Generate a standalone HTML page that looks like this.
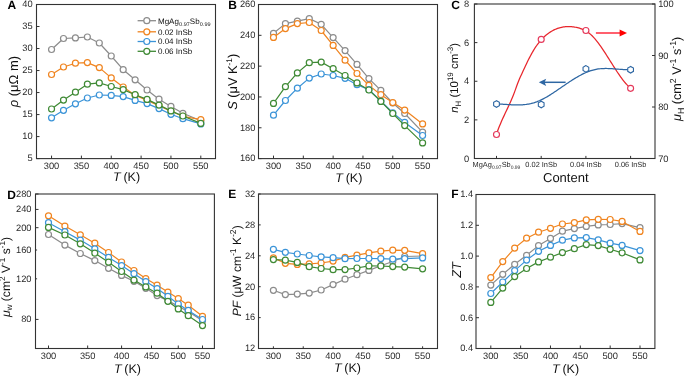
<!DOCTYPE html>
<html><head><meta charset="utf-8"><title>Figure</title>
<style>
html,body{margin:0;padding:0;background:#fff;width:685px;height:376px;overflow:hidden}
svg{display:block;will-change:transform}
text{font-family:"Liberation Sans",sans-serif;text-rendering:geometricPrecision}
</style></head><body>
<svg width="685" height="376" viewBox="0 0 685 376">
<rect width="685" height="376" fill="#fff"/>
<rect x="36.5" y="4.5" width="179" height="154.1" fill="none" stroke="#333333" stroke-width="1.1"/>
<line x1="51.55" y1="158.6" x2="51.55" y2="155.6" stroke="#333333" stroke-width="1"/>
<text x="51.55" y="168.8" font-size="9.3" text-anchor="middle" fill="#2a2a2a">300</text>
<line x1="81.4" y1="158.6" x2="81.4" y2="155.6" stroke="#333333" stroke-width="1"/>
<text x="81.4" y="168.8" font-size="9.3" text-anchor="middle" fill="#2a2a2a">350</text>
<line x1="111.25" y1="158.6" x2="111.25" y2="155.6" stroke="#333333" stroke-width="1"/>
<text x="111.25" y="168.8" font-size="9.3" text-anchor="middle" fill="#2a2a2a">400</text>
<line x1="141.1" y1="158.6" x2="141.1" y2="155.6" stroke="#333333" stroke-width="1"/>
<text x="141.1" y="168.8" font-size="9.3" text-anchor="middle" fill="#2a2a2a">450</text>
<line x1="170.95" y1="158.6" x2="170.95" y2="155.6" stroke="#333333" stroke-width="1"/>
<text x="170.95" y="168.8" font-size="9.3" text-anchor="middle" fill="#2a2a2a">500</text>
<line x1="200.8" y1="158.6" x2="200.8" y2="155.6" stroke="#333333" stroke-width="1"/>
<text x="200.8" y="168.8" font-size="9.3" text-anchor="middle" fill="#2a2a2a">550</text>
<line x1="36.5" y1="158.6" x2="39.5" y2="158.6" stroke="#333333" stroke-width="1"/>
<text x="32.7" y="161.43" font-size="9.3" text-anchor="end" fill="#2a2a2a">5</text>
<line x1="36.5" y1="136.59" x2="39.5" y2="136.59" stroke="#333333" stroke-width="1"/>
<text x="32.7" y="139.42" font-size="9.3" text-anchor="end" fill="#2a2a2a">10</text>
<line x1="36.5" y1="114.57" x2="39.5" y2="114.57" stroke="#333333" stroke-width="1"/>
<text x="32.7" y="117.4" font-size="9.3" text-anchor="end" fill="#2a2a2a">15</text>
<line x1="36.5" y1="92.56" x2="39.5" y2="92.56" stroke="#333333" stroke-width="1"/>
<text x="32.7" y="95.39" font-size="9.3" text-anchor="end" fill="#2a2a2a">20</text>
<line x1="36.5" y1="70.54" x2="39.5" y2="70.54" stroke="#333333" stroke-width="1"/>
<text x="32.7" y="73.37" font-size="9.3" text-anchor="end" fill="#2a2a2a">25</text>
<line x1="36.5" y1="48.53" x2="39.5" y2="48.53" stroke="#333333" stroke-width="1"/>
<text x="32.7" y="51.36" font-size="9.3" text-anchor="end" fill="#2a2a2a">30</text>
<line x1="36.5" y1="26.51" x2="39.5" y2="26.51" stroke="#333333" stroke-width="1"/>
<text x="32.7" y="29.34" font-size="9.3" text-anchor="end" fill="#2a2a2a">35</text>
<line x1="36.5" y1="4.5" x2="39.5" y2="4.5" stroke="#333333" stroke-width="1"/>
<text x="32.7" y="7.33" font-size="9.3" text-anchor="end" fill="#2a2a2a">40</text>
<polyline points="51.55,49.5 63.49,38.5 75.43,37.9 87.37,37 99.31,43 111.25,56 123.19,69.7 135.13,79.8 147.07,90 159.01,99.2 170.95,106.4 182.89,113.3 200.8,120.8" fill="none" stroke="#8c8c8c" stroke-width="1.2" stroke-linejoin="round"/>
<circle cx="51.55" cy="49.5" r="3.0" fill="#fff" stroke="#8c8c8c" stroke-width="1.2"/>
<circle cx="63.49" cy="38.5" r="3.0" fill="#fff" stroke="#8c8c8c" stroke-width="1.2"/>
<circle cx="75.43" cy="37.9" r="3.0" fill="#fff" stroke="#8c8c8c" stroke-width="1.2"/>
<circle cx="87.37" cy="37" r="3.0" fill="#fff" stroke="#8c8c8c" stroke-width="1.2"/>
<circle cx="99.31" cy="43" r="3.0" fill="#fff" stroke="#8c8c8c" stroke-width="1.2"/>
<circle cx="111.25" cy="56" r="3.0" fill="#fff" stroke="#8c8c8c" stroke-width="1.2"/>
<circle cx="123.19" cy="69.7" r="3.0" fill="#fff" stroke="#8c8c8c" stroke-width="1.2"/>
<circle cx="135.13" cy="79.8" r="3.0" fill="#fff" stroke="#8c8c8c" stroke-width="1.2"/>
<circle cx="147.07" cy="90" r="3.0" fill="#fff" stroke="#8c8c8c" stroke-width="1.2"/>
<circle cx="159.01" cy="99.2" r="3.0" fill="#fff" stroke="#8c8c8c" stroke-width="1.2"/>
<circle cx="170.95" cy="106.4" r="3.0" fill="#fff" stroke="#8c8c8c" stroke-width="1.2"/>
<circle cx="182.89" cy="113.3" r="3.0" fill="#fff" stroke="#8c8c8c" stroke-width="1.2"/>
<circle cx="200.8" cy="120.8" r="3.0" fill="#fff" stroke="#8c8c8c" stroke-width="1.2"/>
<polyline points="51.55,74.5 63.49,67 75.43,63.2 87.37,62.6 99.31,67.6 111.25,77.9 123.19,87 135.13,95.3 147.07,100.4 159.01,105.6 170.95,111.3 182.89,116.3 200.8,119.6" fill="none" stroke="#f0841f" stroke-width="1.2" stroke-linejoin="round"/>
<circle cx="51.55" cy="74.5" r="3.0" fill="#fff" stroke="#f0841f" stroke-width="1.2"/>
<circle cx="63.49" cy="67" r="3.0" fill="#fff" stroke="#f0841f" stroke-width="1.2"/>
<circle cx="75.43" cy="63.2" r="3.0" fill="#fff" stroke="#f0841f" stroke-width="1.2"/>
<circle cx="87.37" cy="62.6" r="3.0" fill="#fff" stroke="#f0841f" stroke-width="1.2"/>
<circle cx="99.31" cy="67.6" r="3.0" fill="#fff" stroke="#f0841f" stroke-width="1.2"/>
<circle cx="111.25" cy="77.9" r="3.0" fill="#fff" stroke="#f0841f" stroke-width="1.2"/>
<circle cx="123.19" cy="87" r="3.0" fill="#fff" stroke="#f0841f" stroke-width="1.2"/>
<circle cx="135.13" cy="95.3" r="3.0" fill="#fff" stroke="#f0841f" stroke-width="1.2"/>
<circle cx="147.07" cy="100.4" r="3.0" fill="#fff" stroke="#f0841f" stroke-width="1.2"/>
<circle cx="159.01" cy="105.6" r="3.0" fill="#fff" stroke="#f0841f" stroke-width="1.2"/>
<circle cx="170.95" cy="111.3" r="3.0" fill="#fff" stroke="#f0841f" stroke-width="1.2"/>
<circle cx="182.89" cy="116.3" r="3.0" fill="#fff" stroke="#f0841f" stroke-width="1.2"/>
<circle cx="200.8" cy="119.6" r="3.0" fill="#fff" stroke="#f0841f" stroke-width="1.2"/>
<polyline points="51.55,117.8 63.49,110.3 75.43,103.8 87.37,98 99.31,95 111.25,95.4 123.19,96.6 135.13,100.4 147.07,103.6 159.01,108.6 170.95,114.3 182.89,118.7 200.8,123.9" fill="none" stroke="#3b94d8" stroke-width="1.2" stroke-linejoin="round"/>
<circle cx="51.55" cy="117.8" r="3.0" fill="#fff" stroke="#3b94d8" stroke-width="1.2"/>
<circle cx="63.49" cy="110.3" r="3.0" fill="#fff" stroke="#3b94d8" stroke-width="1.2"/>
<circle cx="75.43" cy="103.8" r="3.0" fill="#fff" stroke="#3b94d8" stroke-width="1.2"/>
<circle cx="87.37" cy="98" r="3.0" fill="#fff" stroke="#3b94d8" stroke-width="1.2"/>
<circle cx="99.31" cy="95" r="3.0" fill="#fff" stroke="#3b94d8" stroke-width="1.2"/>
<circle cx="111.25" cy="95.4" r="3.0" fill="#fff" stroke="#3b94d8" stroke-width="1.2"/>
<circle cx="123.19" cy="96.6" r="3.0" fill="#fff" stroke="#3b94d8" stroke-width="1.2"/>
<circle cx="135.13" cy="100.4" r="3.0" fill="#fff" stroke="#3b94d8" stroke-width="1.2"/>
<circle cx="147.07" cy="103.6" r="3.0" fill="#fff" stroke="#3b94d8" stroke-width="1.2"/>
<circle cx="159.01" cy="108.6" r="3.0" fill="#fff" stroke="#3b94d8" stroke-width="1.2"/>
<circle cx="170.95" cy="114.3" r="3.0" fill="#fff" stroke="#3b94d8" stroke-width="1.2"/>
<circle cx="182.89" cy="118.7" r="3.0" fill="#fff" stroke="#3b94d8" stroke-width="1.2"/>
<circle cx="200.8" cy="123.9" r="3.0" fill="#fff" stroke="#3b94d8" stroke-width="1.2"/>
<polyline points="51.55,109 63.49,100.1 75.43,92.2 87.37,84.2 99.31,82.9 111.25,86.5 123.19,89.6 135.13,94.7 147.07,99.4 159.01,105.1 170.95,110.9 182.89,116 200.8,123.4" fill="none" stroke="#3f8a35" stroke-width="1.2" stroke-linejoin="round"/>
<circle cx="51.55" cy="109" r="3.0" fill="#fff" stroke="#3f8a35" stroke-width="1.2"/>
<circle cx="63.49" cy="100.1" r="3.0" fill="#fff" stroke="#3f8a35" stroke-width="1.2"/>
<circle cx="75.43" cy="92.2" r="3.0" fill="#fff" stroke="#3f8a35" stroke-width="1.2"/>
<circle cx="87.37" cy="84.2" r="3.0" fill="#fff" stroke="#3f8a35" stroke-width="1.2"/>
<circle cx="99.31" cy="82.9" r="3.0" fill="#fff" stroke="#3f8a35" stroke-width="1.2"/>
<circle cx="111.25" cy="86.5" r="3.0" fill="#fff" stroke="#3f8a35" stroke-width="1.2"/>
<circle cx="123.19" cy="89.6" r="3.0" fill="#fff" stroke="#3f8a35" stroke-width="1.2"/>
<circle cx="135.13" cy="94.7" r="3.0" fill="#fff" stroke="#3f8a35" stroke-width="1.2"/>
<circle cx="147.07" cy="99.4" r="3.0" fill="#fff" stroke="#3f8a35" stroke-width="1.2"/>
<circle cx="159.01" cy="105.1" r="3.0" fill="#fff" stroke="#3f8a35" stroke-width="1.2"/>
<circle cx="170.95" cy="110.9" r="3.0" fill="#fff" stroke="#3f8a35" stroke-width="1.2"/>
<circle cx="182.89" cy="116" r="3.0" fill="#fff" stroke="#3f8a35" stroke-width="1.2"/>
<circle cx="200.8" cy="123.4" r="3.0" fill="#fff" stroke="#3f8a35" stroke-width="1.2"/>
<line x1="137.6" y1="20.7" x2="156" y2="20.7" stroke="#8c8c8c" stroke-width="1.3"/>
<circle cx="146.8" cy="20.7" r="3.0" fill="#fff" stroke="#8c8c8c" stroke-width="1.2"/>
<text x="158" y="23.5" font-size="8" fill="#111">MgAg<tspan font-size="5.5" dx="0.2" dy="2.3">0.97</tspan><tspan dy="-2.3">Sb</tspan><tspan font-size="5.5" dx="0.2" dy="2.3">0.99</tspan></text>
<line x1="137.6" y1="31.8" x2="156" y2="31.8" stroke="#f0841f" stroke-width="1.3"/>
<circle cx="146.8" cy="31.8" r="3.0" fill="#fff" stroke="#f0841f" stroke-width="1.2"/>
<text x="158" y="34.6" font-size="8" fill="#111">0.02 InSb</text>
<line x1="137.6" y1="41.5" x2="156" y2="41.5" stroke="#3b94d8" stroke-width="1.3"/>
<circle cx="146.8" cy="41.5" r="3.0" fill="#fff" stroke="#3b94d8" stroke-width="1.2"/>
<text x="158" y="44.3" font-size="8" fill="#111">0.04 InSb</text>
<line x1="137.6" y1="51.3" x2="156" y2="51.3" stroke="#3f8a35" stroke-width="1.3"/>
<circle cx="146.8" cy="51.3" r="3.0" fill="#fff" stroke="#3f8a35" stroke-width="1.2"/>
<text x="158" y="54.1" font-size="8" fill="#111">0.06 InSb</text>
<text x="7.6" y="8.6" font-size="12" font-weight="bold" fill="#000">A</text>
<text x="113" y="181" font-size="12.5" fill="#111111"><tspan font-style="italic">T</tspan><tspan dx="2.8">(K)</tspan></text>
<text transform="translate(18.2,81.6) rotate(-90)" text-anchor="middle" fill="#111111"><tspan font-size="13" font-style="italic">ρ</tspan><tspan font-size="13"> (μΩ m)</tspan></text>
<rect x="258.5" y="4.5" width="179" height="154.1" fill="none" stroke="#333333" stroke-width="1.1"/>
<line x1="273.5" y1="158.6" x2="273.5" y2="155.6" stroke="#333333" stroke-width="1"/>
<text x="273.5" y="168.8" font-size="9.3" text-anchor="middle" fill="#2a2a2a">300</text>
<line x1="303.32" y1="158.6" x2="303.32" y2="155.6" stroke="#333333" stroke-width="1"/>
<text x="303.32" y="168.8" font-size="9.3" text-anchor="middle" fill="#2a2a2a">350</text>
<line x1="333.14" y1="158.6" x2="333.14" y2="155.6" stroke="#333333" stroke-width="1"/>
<text x="333.14" y="168.8" font-size="9.3" text-anchor="middle" fill="#2a2a2a">400</text>
<line x1="362.96" y1="158.6" x2="362.96" y2="155.6" stroke="#333333" stroke-width="1"/>
<text x="362.96" y="168.8" font-size="9.3" text-anchor="middle" fill="#2a2a2a">450</text>
<line x1="392.78" y1="158.6" x2="392.78" y2="155.6" stroke="#333333" stroke-width="1"/>
<text x="392.78" y="168.8" font-size="9.3" text-anchor="middle" fill="#2a2a2a">500</text>
<line x1="422.6" y1="158.6" x2="422.6" y2="155.6" stroke="#333333" stroke-width="1"/>
<text x="422.6" y="168.8" font-size="9.3" text-anchor="middle" fill="#2a2a2a">550</text>
<line x1="258.5" y1="158.6" x2="261.5" y2="158.6" stroke="#333333" stroke-width="1"/>
<text x="255.4" y="161.43" font-size="9.3" text-anchor="end" fill="#2a2a2a">160</text>
<line x1="258.5" y1="127.78" x2="261.5" y2="127.78" stroke="#333333" stroke-width="1"/>
<text x="255.4" y="130.61" font-size="9.3" text-anchor="end" fill="#2a2a2a">180</text>
<line x1="258.5" y1="96.96" x2="261.5" y2="96.96" stroke="#333333" stroke-width="1"/>
<text x="255.4" y="99.79" font-size="9.3" text-anchor="end" fill="#2a2a2a">200</text>
<line x1="258.5" y1="66.14" x2="261.5" y2="66.14" stroke="#333333" stroke-width="1"/>
<text x="255.4" y="68.97" font-size="9.3" text-anchor="end" fill="#2a2a2a">220</text>
<line x1="258.5" y1="35.32" x2="261.5" y2="35.32" stroke="#333333" stroke-width="1"/>
<text x="255.4" y="38.15" font-size="9.3" text-anchor="end" fill="#2a2a2a">240</text>
<line x1="258.5" y1="4.5" x2="261.5" y2="4.5" stroke="#333333" stroke-width="1"/>
<text x="255.4" y="7.33" font-size="9.3" text-anchor="end" fill="#2a2a2a">260</text>
<polyline points="273.5,33.3 285.43,23.6 297.36,21.2 309.28,18.6 321.21,24.3 333.14,37.6 345.07,50.6 357,64.4 368.92,78.6 380.85,90.4 392.78,103 404.71,113.5 422.6,132.1" fill="none" stroke="#8c8c8c" stroke-width="1.2" stroke-linejoin="round"/>
<circle cx="273.5" cy="33.3" r="3.0" fill="#fff" stroke="#8c8c8c" stroke-width="1.2"/>
<circle cx="285.43" cy="23.6" r="3.0" fill="#fff" stroke="#8c8c8c" stroke-width="1.2"/>
<circle cx="297.36" cy="21.2" r="3.0" fill="#fff" stroke="#8c8c8c" stroke-width="1.2"/>
<circle cx="309.28" cy="18.6" r="3.0" fill="#fff" stroke="#8c8c8c" stroke-width="1.2"/>
<circle cx="321.21" cy="24.3" r="3.0" fill="#fff" stroke="#8c8c8c" stroke-width="1.2"/>
<circle cx="333.14" cy="37.6" r="3.0" fill="#fff" stroke="#8c8c8c" stroke-width="1.2"/>
<circle cx="345.07" cy="50.6" r="3.0" fill="#fff" stroke="#8c8c8c" stroke-width="1.2"/>
<circle cx="357" cy="64.4" r="3.0" fill="#fff" stroke="#8c8c8c" stroke-width="1.2"/>
<circle cx="368.92" cy="78.6" r="3.0" fill="#fff" stroke="#8c8c8c" stroke-width="1.2"/>
<circle cx="380.85" cy="90.4" r="3.0" fill="#fff" stroke="#8c8c8c" stroke-width="1.2"/>
<circle cx="392.78" cy="103" r="3.0" fill="#fff" stroke="#8c8c8c" stroke-width="1.2"/>
<circle cx="404.71" cy="113.5" r="3.0" fill="#fff" stroke="#8c8c8c" stroke-width="1.2"/>
<circle cx="422.6" cy="132.1" r="3.0" fill="#fff" stroke="#8c8c8c" stroke-width="1.2"/>
<polyline points="273.5,37.4 285.43,28.6 297.36,23.6 309.28,22.5 321.21,30.5 333.14,45.4 345.07,60.2 357,73.5 368.92,85.4 380.85,94.7 392.78,102.6 404.71,110.1 422.6,123.9" fill="none" stroke="#f0841f" stroke-width="1.2" stroke-linejoin="round"/>
<circle cx="273.5" cy="37.4" r="3.0" fill="#fff" stroke="#f0841f" stroke-width="1.2"/>
<circle cx="285.43" cy="28.6" r="3.0" fill="#fff" stroke="#f0841f" stroke-width="1.2"/>
<circle cx="297.36" cy="23.6" r="3.0" fill="#fff" stroke="#f0841f" stroke-width="1.2"/>
<circle cx="309.28" cy="22.5" r="3.0" fill="#fff" stroke="#f0841f" stroke-width="1.2"/>
<circle cx="321.21" cy="30.5" r="3.0" fill="#fff" stroke="#f0841f" stroke-width="1.2"/>
<circle cx="333.14" cy="45.4" r="3.0" fill="#fff" stroke="#f0841f" stroke-width="1.2"/>
<circle cx="345.07" cy="60.2" r="3.0" fill="#fff" stroke="#f0841f" stroke-width="1.2"/>
<circle cx="357" cy="73.5" r="3.0" fill="#fff" stroke="#f0841f" stroke-width="1.2"/>
<circle cx="368.92" cy="85.4" r="3.0" fill="#fff" stroke="#f0841f" stroke-width="1.2"/>
<circle cx="380.85" cy="94.7" r="3.0" fill="#fff" stroke="#f0841f" stroke-width="1.2"/>
<circle cx="392.78" cy="102.6" r="3.0" fill="#fff" stroke="#f0841f" stroke-width="1.2"/>
<circle cx="404.71" cy="110.1" r="3.0" fill="#fff" stroke="#f0841f" stroke-width="1.2"/>
<circle cx="422.6" cy="123.9" r="3.0" fill="#fff" stroke="#f0841f" stroke-width="1.2"/>
<polyline points="273.5,115.2 285.43,100.5 297.36,88.2 309.28,78.1 321.21,74 333.14,75.5 345.07,78.3 357,84.7 368.92,89.6 380.85,101 392.78,112.8 404.71,122.4 422.6,135.5" fill="none" stroke="#3b94d8" stroke-width="1.2" stroke-linejoin="round"/>
<circle cx="273.5" cy="115.2" r="3.0" fill="#fff" stroke="#3b94d8" stroke-width="1.2"/>
<circle cx="285.43" cy="100.5" r="3.0" fill="#fff" stroke="#3b94d8" stroke-width="1.2"/>
<circle cx="297.36" cy="88.2" r="3.0" fill="#fff" stroke="#3b94d8" stroke-width="1.2"/>
<circle cx="309.28" cy="78.1" r="3.0" fill="#fff" stroke="#3b94d8" stroke-width="1.2"/>
<circle cx="321.21" cy="74" r="3.0" fill="#fff" stroke="#3b94d8" stroke-width="1.2"/>
<circle cx="333.14" cy="75.5" r="3.0" fill="#fff" stroke="#3b94d8" stroke-width="1.2"/>
<circle cx="345.07" cy="78.3" r="3.0" fill="#fff" stroke="#3b94d8" stroke-width="1.2"/>
<circle cx="357" cy="84.7" r="3.0" fill="#fff" stroke="#3b94d8" stroke-width="1.2"/>
<circle cx="368.92" cy="89.6" r="3.0" fill="#fff" stroke="#3b94d8" stroke-width="1.2"/>
<circle cx="380.85" cy="101" r="3.0" fill="#fff" stroke="#3b94d8" stroke-width="1.2"/>
<circle cx="392.78" cy="112.8" r="3.0" fill="#fff" stroke="#3b94d8" stroke-width="1.2"/>
<circle cx="404.71" cy="122.4" r="3.0" fill="#fff" stroke="#3b94d8" stroke-width="1.2"/>
<circle cx="422.6" cy="135.5" r="3.0" fill="#fff" stroke="#3b94d8" stroke-width="1.2"/>
<polyline points="273.5,103.4 285.43,86.7 297.36,72.9 309.28,62.7 321.21,62.1 333.14,68.7 345.07,75.5 357,82.9 368.92,90 380.85,101.4 392.78,113.5 404.71,125.6 422.6,142.9" fill="none" stroke="#3f8a35" stroke-width="1.2" stroke-linejoin="round"/>
<circle cx="273.5" cy="103.4" r="3.0" fill="#fff" stroke="#3f8a35" stroke-width="1.2"/>
<circle cx="285.43" cy="86.7" r="3.0" fill="#fff" stroke="#3f8a35" stroke-width="1.2"/>
<circle cx="297.36" cy="72.9" r="3.0" fill="#fff" stroke="#3f8a35" stroke-width="1.2"/>
<circle cx="309.28" cy="62.7" r="3.0" fill="#fff" stroke="#3f8a35" stroke-width="1.2"/>
<circle cx="321.21" cy="62.1" r="3.0" fill="#fff" stroke="#3f8a35" stroke-width="1.2"/>
<circle cx="333.14" cy="68.7" r="3.0" fill="#fff" stroke="#3f8a35" stroke-width="1.2"/>
<circle cx="345.07" cy="75.5" r="3.0" fill="#fff" stroke="#3f8a35" stroke-width="1.2"/>
<circle cx="357" cy="82.9" r="3.0" fill="#fff" stroke="#3f8a35" stroke-width="1.2"/>
<circle cx="368.92" cy="90" r="3.0" fill="#fff" stroke="#3f8a35" stroke-width="1.2"/>
<circle cx="380.85" cy="101.4" r="3.0" fill="#fff" stroke="#3f8a35" stroke-width="1.2"/>
<circle cx="392.78" cy="113.5" r="3.0" fill="#fff" stroke="#3f8a35" stroke-width="1.2"/>
<circle cx="404.71" cy="125.6" r="3.0" fill="#fff" stroke="#3f8a35" stroke-width="1.2"/>
<circle cx="422.6" cy="142.9" r="3.0" fill="#fff" stroke="#3f8a35" stroke-width="1.2"/>
<text x="228.3" y="8.6" font-size="12" font-weight="bold" fill="#000">B</text>
<text x="335.2" y="181.6" font-size="12.5" fill="#111111"><tspan font-style="italic">T</tspan><tspan dx="2.8">(K)</tspan></text>
<text transform="translate(236.5,81.8) rotate(-90)" text-anchor="middle" fill="#111111"><tspan font-size="12.8" font-style="italic">S</tspan><tspan font-size="12.8"> (μV K</tspan><tspan font-size="8.32" dy="-4.61">-1</tspan><tspan font-size="12.8" dy="4.61">)</tspan></text>
<rect x="474.4" y="4" width="180.6" height="154.5" fill="none" stroke="#333333" stroke-width="1.1"/>
<line x1="496.5" y1="158.5" x2="496.5" y2="155.9" stroke="#333333" stroke-width="1"/>
<line x1="541.2" y1="158.5" x2="541.2" y2="155.9" stroke="#333333" stroke-width="1"/>
<line x1="585.9" y1="158.5" x2="585.9" y2="155.9" stroke="#333333" stroke-width="1"/>
<line x1="630.6" y1="158.5" x2="630.6" y2="155.9" stroke="#333333" stroke-width="1"/>
<text x="496.5" y="167.1" font-size="7.4" text-anchor="middle" fill="#2a2a2a">MgAg<tspan font-size="5" dy="1.8">0.97</tspan><tspan dy="-1.8">Sb</tspan><tspan font-size="5" dy="1.8">0.99</tspan></text>
<text x="541.2" y="167.1" font-size="7.4" text-anchor="middle" fill="#2a2a2a">0.02 InSb</text>
<text x="585.9" y="167.1" font-size="7.4" text-anchor="middle" fill="#2a2a2a">0.04 InSb</text>
<text x="630.6" y="167.1" font-size="7.4" text-anchor="middle" fill="#2a2a2a">0.06 InSb</text>
<line x1="474.4" y1="158.5" x2="477.4" y2="158.5" stroke="#333333" stroke-width="1"/>
<text x="469.1" y="161.53" font-size="9.3" text-anchor="end" fill="#2a2a2a">0</text>
<line x1="474.4" y1="119.88" x2="477.4" y2="119.88" stroke="#333333" stroke-width="1"/>
<text x="469.1" y="122.9" font-size="9.3" text-anchor="end" fill="#2a2a2a">2</text>
<line x1="474.4" y1="81.25" x2="477.4" y2="81.25" stroke="#333333" stroke-width="1"/>
<text x="469.1" y="84.28" font-size="9.3" text-anchor="end" fill="#2a2a2a">4</text>
<line x1="474.4" y1="42.62" x2="477.4" y2="42.62" stroke="#333333" stroke-width="1"/>
<text x="469.1" y="45.65" font-size="9.3" text-anchor="end" fill="#2a2a2a">6</text>
<line x1="474.4" y1="4" x2="477.4" y2="4" stroke="#333333" stroke-width="1"/>
<text x="469.1" y="7.03" font-size="9.3" text-anchor="end" fill="#2a2a2a">8</text>
<line x1="655" y1="158.5" x2="652" y2="158.5" stroke="#333333" stroke-width="1"/>
<text x="658.2" y="161.53" font-size="9.3" text-anchor="start" fill="#2a2a2a">70</text>
<line x1="655" y1="107" x2="652" y2="107" stroke="#333333" stroke-width="1"/>
<text x="658.2" y="110.03" font-size="9.3" text-anchor="start" fill="#2a2a2a">80</text>
<line x1="655" y1="55.5" x2="652" y2="55.5" stroke="#333333" stroke-width="1"/>
<text x="658.2" y="58.53" font-size="9.3" text-anchor="start" fill="#2a2a2a">90</text>
<line x1="655" y1="4" x2="652" y2="4" stroke="#333333" stroke-width="1"/>
<text x="658.2" y="7.03" font-size="9.3" text-anchor="start" fill="#2a2a2a">100</text>
<path d="M496.5,133.99 L497.5,131.22 L498.5,128.58 L499.5,126.06 L500.5,123.65 L501.5,121.32 L502.5,119.07 L503.51,116.87 L504.51,114.72 L505.51,112.6 L506.51,110.49 L507.51,108.38 L508.51,106.26 L509.51,104.1 L510.51,101.9 L511.51,99.62 L512.51,97.25 L513.51,94.75 L514.51,92.1 L515.51,89.34 L516.51,86.56 L517.52,83.83 L518.52,81.26 L519.52,78.86 L520.52,76.6 L521.52,74.4 L522.52,72.22 L523.52,70.05 L524.52,67.89 L525.52,65.76 L526.52,63.66 L527.52,61.59 L528.52,59.57 L529.52,57.6 L530.53,55.69 L531.53,53.84 L532.53,52.06 L533.53,50.37 L534.53,48.75 L535.53,47.21 L536.53,45.74 L537.53,44.35 L538.53,43.03 L539.53,41.78 L540.53,40.59 L541.53,39.47 L542.53,38.41 L543.54,37.41 L544.54,36.46 L545.54,35.57 L546.54,34.74 L547.54,33.95 L548.54,33.21 L549.54,32.52 L550.54,31.87 L551.54,31.26 L552.54,30.69 L553.54,30.16 L554.54,29.67 L555.54,29.22 L556.54,28.81 L557.55,28.43 L558.55,28.09 L559.55,27.79 L560.55,27.52 L561.55,27.29 L562.55,27.09 L563.55,26.92 L564.55,26.78 L565.55,26.68 L566.55,26.61 L567.55,26.57 L568.55,26.56 L569.55,26.57 L570.56,26.62 L571.56,26.69 L572.56,26.79 L573.56,26.92 L574.56,27.07 L575.56,27.24 L576.56,27.45 L577.56,27.67 L578.56,27.93 L579.56,28.21 L580.56,28.54 L581.56,28.9 L582.56,29.3 L583.56,29.74 L584.57,30.24 L585.57,30.78 L586.57,31.38 L587.57,32.03 L588.57,32.75 L589.57,33.52 L590.57,34.37 L591.57,35.28 L592.57,36.26 L593.57,37.31 L594.57,38.42 L595.57,39.59 L596.57,40.81 L597.58,42.08 L598.58,43.4 L599.58,44.77 L600.58,46.17 L601.58,47.61 L602.58,49.08 L603.58,50.58 L604.58,52.11 L605.58,53.66 L606.58,55.22 L607.58,56.8 L608.58,58.39 L609.58,59.98 L610.59,61.58 L611.59,63.17 L612.59,64.76 L613.59,66.34 L614.59,67.91 L615.59,69.46 L616.59,70.99 L617.59,72.49 L618.59,73.97 L619.59,75.42 L620.59,76.83 L621.59,78.21 L622.59,79.54 L623.59,80.82 L624.6,82.06 L625.6,83.24 L626.6,84.36 L627.6,85.42 L628.6,86.42 L629.6,87.35 L630.6,88.2" fill="none" stroke="#e8262c" stroke-width="1.25"/>
<path d="M496.4,103.98 L497.41,104.01 L498.41,104.04 L499.42,104.09 L500.43,104.13 L501.43,104.19 L502.44,104.24 L503.45,104.3 L504.45,104.36 L505.46,104.43 L506.47,104.49 L507.47,104.55 L508.48,104.62 L509.49,104.67 L510.49,104.73 L511.5,104.78 L512.51,104.83 L513.52,104.87 L514.52,104.9 L515.53,104.92 L516.54,104.94 L517.54,104.94 L518.55,104.94 L519.56,104.92 L520.56,104.89 L521.57,104.84 L522.58,104.78 L523.58,104.7 L524.59,104.61 L525.6,104.5 L526.6,104.37 L527.61,104.22 L528.62,104.05 L529.62,103.86 L530.63,103.65 L531.64,103.41 L532.64,103.15 L533.65,102.87 L534.66,102.55 L535.66,102.21 L536.67,101.85 L537.68,101.45 L538.68,101.04 L539.69,100.6 L540.7,100.13 L541.7,99.65 L542.71,99.14 L543.72,98.61 L544.72,98.07 L545.73,97.51 L546.74,96.93 L547.75,96.34 L548.75,95.73 L549.76,95.11 L550.77,94.48 L551.77,93.84 L552.78,93.18 L553.79,92.52 L554.79,91.85 L555.8,91.18 L556.81,90.49 L557.81,89.81 L558.82,89.11 L559.83,88.42 L560.83,87.73 L561.84,87.03 L562.85,86.34 L563.85,85.64 L564.86,84.95 L565.87,84.26 L566.87,83.58 L567.88,82.9 L568.89,82.23 L569.89,81.57 L570.9,80.91 L571.91,80.26 L572.91,79.63 L573.92,79 L574.93,78.38 L575.93,77.77 L576.94,77.18 L577.95,76.6 L578.95,76.03 L579.96,75.48 L580.97,74.95 L581.98,74.43 L582.98,73.93 L583.99,73.44 L585,72.98 L586,72.53 L587.01,72.11 L588.02,71.7 L589.02,71.32 L590.03,70.96 L591.04,70.63 L592.04,70.31 L593.05,70.03 L594.06,69.77 L595.06,69.53 L596.07,69.33 L597.08,69.15 L598.08,68.99 L599.09,68.86 L600.1,68.75 L601.1,68.66 L602.11,68.59 L603.12,68.54 L604.12,68.51 L605.13,68.49 L606.14,68.49 L607.14,68.5 L608.15,68.52 L609.16,68.56 L610.16,68.6 L611.17,68.66 L612.18,68.72 L613.18,68.78 L614.19,68.86 L615.2,68.93 L616.21,69.01 L617.21,69.09 L618.22,69.17 L619.23,69.25 L620.23,69.33 L621.24,69.41 L622.25,69.47 L623.25,69.54 L624.26,69.59 L625.27,69.64 L626.27,69.68 L627.28,69.71 L628.29,69.72 L629.29,69.72 L630.3,69.71" fill="none" stroke="#2e67a3" stroke-width="1.25"/>
<circle cx="496.5" cy="134.5" r="3.0" fill="#fff" stroke="#e5385a" stroke-width="1.15"/>
<circle cx="541.2" cy="39.4" r="3.0" fill="#fff" stroke="#e5385a" stroke-width="1.15"/>
<circle cx="585.9" cy="30.5" r="3.0" fill="#fff" stroke="#e5385a" stroke-width="1.15"/>
<circle cx="630.6" cy="88.3" r="3.0" fill="#fff" stroke="#e5385a" stroke-width="1.15"/>
<polygon points="496.5,100.7 493.64,102.35 493.64,105.65 496.5,107.3 499.36,105.65 499.36,102.35" fill="#fff" stroke="#2e67a3" stroke-width="1.1"/>
<polygon points="541.2,101.2 538.34,102.85 538.34,106.15 541.2,107.8 544.06,106.15 544.06,102.85" fill="#fff" stroke="#2e67a3" stroke-width="1.1"/>
<polygon points="585.9,65.6 583.04,67.25 583.04,70.55 585.9,72.2 588.76,70.55 588.76,67.25" fill="#fff" stroke="#2e67a3" stroke-width="1.1"/>
<polygon points="630.6,66.4 627.74,68.05 627.74,71.35 630.6,73 633.46,71.35 633.46,68.05" fill="#fff" stroke="#2e67a3" stroke-width="1.1"/>
<line x1="595.9" y1="33" x2="620.5" y2="33" stroke="#ff4454" stroke-width="1.7"/>
<polygon points="619.6,29.4 627,33 619.6,36.6" fill="#ff0000"/>
<line x1="565.6" y1="82.3" x2="544" y2="82.3" stroke="#2e67a3" stroke-width="1.5"/>
<polygon points="538.8,82.3 546.2,78.7 544.6,82.3 546.2,85.9" fill="#2e67a3"/>
<text x="451.2" y="8.6" font-size="12" font-weight="bold" fill="#000">C</text>
<text x="543.0" y="181.9" font-size="13" fill="#111111">Content</text>
<text transform="translate(457.9,77.9) rotate(-90)" text-anchor="middle" fill="#111111"><tspan font-size="11.4" font-style="italic">n</tspan><tspan font-size="7.98" dy="2.96">H</tspan><tspan font-size="11.4" dy="-2.96"> (10</tspan><tspan font-size="7.98" dy="-4.79">19</tspan><tspan font-size="11.4" dy="4.79"> cm</tspan><tspan font-size="7.98" dy="-4.79">-3</tspan><tspan font-size="11.4" dy="4.79">)</tspan></text>
<text transform="translate(681,78.8) rotate(-90)" text-anchor="middle" fill="#111111"><tspan font-size="12.6" font-style="italic">μ</tspan><tspan font-size="8.82" dy="2.52">H</tspan><tspan font-size="12.6" dy="-2.52"> (cm</tspan><tspan font-size="8.82" dy="-5.04">2</tspan><tspan font-size="12.6" dy="5.04"> V</tspan><tspan font-size="8.82" dy="-5.04">-1</tspan><tspan font-size="12.6" dy="5.04"> s</tspan><tspan font-size="8.82" dy="-5.04">-1</tspan><tspan font-size="12.6" dy="5.04">)</tspan></text>
<rect x="35.5" y="194" width="178.9" height="154.5" fill="none" stroke="#333333" stroke-width="1.1"/>
<line x1="48.5" y1="348.5" x2="48.5" y2="345.5" stroke="#333333" stroke-width="1"/>
<text x="48.5" y="358.7" font-size="9.3" text-anchor="middle" fill="#2a2a2a">300</text>
<line x1="87.66" y1="348.5" x2="87.66" y2="345.5" stroke="#333333" stroke-width="1"/>
<text x="87.66" y="358.7" font-size="9.3" text-anchor="middle" fill="#2a2a2a">350</text>
<line x1="121.59" y1="348.5" x2="121.59" y2="345.5" stroke="#333333" stroke-width="1"/>
<text x="121.59" y="358.7" font-size="9.3" text-anchor="middle" fill="#2a2a2a">400</text>
<line x1="151.51" y1="348.5" x2="151.51" y2="345.5" stroke="#333333" stroke-width="1"/>
<text x="151.51" y="358.7" font-size="9.3" text-anchor="middle" fill="#2a2a2a">450</text>
<line x1="178.28" y1="348.5" x2="178.28" y2="345.5" stroke="#333333" stroke-width="1"/>
<text x="178.28" y="358.7" font-size="9.3" text-anchor="middle" fill="#2a2a2a">500</text>
<line x1="202.5" y1="348.5" x2="202.5" y2="345.5" stroke="#333333" stroke-width="1"/>
<text x="202.5" y="358.7" font-size="9.3" text-anchor="middle" fill="#2a2a2a">550</text>
<line x1="35.5" y1="319.41" x2="38.5" y2="319.41" stroke="#333333" stroke-width="1"/>
<text x="31.5" y="322.24" font-size="9.3" text-anchor="end" fill="#2a2a2a">80</text>
<line x1="35.5" y1="227.68" x2="38.5" y2="227.68" stroke="#333333" stroke-width="1"/>
<text x="31.5" y="230.51" font-size="9.3" text-anchor="end" fill="#2a2a2a">200</text>
<line x1="35.5" y1="209.43" x2="38.5" y2="209.43" stroke="#333333" stroke-width="1"/>
<text x="31.5" y="212.26" font-size="9.3" text-anchor="end" fill="#2a2a2a">240</text>
<line x1="35.5" y1="194" x2="38.5" y2="194" stroke="#333333" stroke-width="1"/>
<text x="31.5" y="196.83" font-size="9.3" text-anchor="end" fill="#2a2a2a">280</text>
<line x1="35.5" y1="278.82" x2="37.1" y2="278.82" stroke="#333333" stroke-width="1"/>
<text x="31.5" y="281.65" font-size="9.3" text-anchor="end" fill="#2a2a2a">120</text>
<line x1="35.5" y1="250.02" x2="37.1" y2="250.02" stroke="#333333" stroke-width="1"/>
<text x="31.5" y="252.85" font-size="9.3" text-anchor="end" fill="#2a2a2a">160</text>
<polyline points="48.5,234.5 64.9,245.1 80.3,253.5 94.82,260.6 108.56,268.3 121.59,275.4 133.98,281.3 145.8,288.3 157.1,295.6 167.91,300.6 178.28,306.2 188.25,311.6 202.5,320.8" fill="none" stroke="#8c8c8c" stroke-width="1.2" stroke-linejoin="round"/>
<circle cx="48.5" cy="234.5" r="3.0" fill="#fff" stroke="#8c8c8c" stroke-width="1.2"/>
<circle cx="64.9" cy="245.1" r="3.0" fill="#fff" stroke="#8c8c8c" stroke-width="1.2"/>
<circle cx="80.3" cy="253.5" r="3.0" fill="#fff" stroke="#8c8c8c" stroke-width="1.2"/>
<circle cx="94.82" cy="260.6" r="3.0" fill="#fff" stroke="#8c8c8c" stroke-width="1.2"/>
<circle cx="108.56" cy="268.3" r="3.0" fill="#fff" stroke="#8c8c8c" stroke-width="1.2"/>
<circle cx="121.59" cy="275.4" r="3.0" fill="#fff" stroke="#8c8c8c" stroke-width="1.2"/>
<circle cx="133.98" cy="281.3" r="3.0" fill="#fff" stroke="#8c8c8c" stroke-width="1.2"/>
<circle cx="145.8" cy="288.3" r="3.0" fill="#fff" stroke="#8c8c8c" stroke-width="1.2"/>
<circle cx="157.1" cy="295.6" r="3.0" fill="#fff" stroke="#8c8c8c" stroke-width="1.2"/>
<circle cx="167.91" cy="300.6" r="3.0" fill="#fff" stroke="#8c8c8c" stroke-width="1.2"/>
<circle cx="178.28" cy="306.2" r="3.0" fill="#fff" stroke="#8c8c8c" stroke-width="1.2"/>
<circle cx="188.25" cy="311.6" r="3.0" fill="#fff" stroke="#8c8c8c" stroke-width="1.2"/>
<circle cx="202.5" cy="320.8" r="3.0" fill="#fff" stroke="#8c8c8c" stroke-width="1.2"/>
<polyline points="48.5,215.8 64.9,226.1 80.3,234.8 94.82,243.2 108.56,252.5 121.59,262 133.98,270.5 145.8,278.6 157.1,285.2 167.91,292.1 178.28,298.6 188.25,305.2 202.5,316.3" fill="none" stroke="#f0841f" stroke-width="1.2" stroke-linejoin="round"/>
<circle cx="48.5" cy="215.8" r="3.0" fill="#fff" stroke="#f0841f" stroke-width="1.2"/>
<circle cx="64.9" cy="226.1" r="3.0" fill="#fff" stroke="#f0841f" stroke-width="1.2"/>
<circle cx="80.3" cy="234.8" r="3.0" fill="#fff" stroke="#f0841f" stroke-width="1.2"/>
<circle cx="94.82" cy="243.2" r="3.0" fill="#fff" stroke="#f0841f" stroke-width="1.2"/>
<circle cx="108.56" cy="252.5" r="3.0" fill="#fff" stroke="#f0841f" stroke-width="1.2"/>
<circle cx="121.59" cy="262" r="3.0" fill="#fff" stroke="#f0841f" stroke-width="1.2"/>
<circle cx="133.98" cy="270.5" r="3.0" fill="#fff" stroke="#f0841f" stroke-width="1.2"/>
<circle cx="145.8" cy="278.6" r="3.0" fill="#fff" stroke="#f0841f" stroke-width="1.2"/>
<circle cx="157.1" cy="285.2" r="3.0" fill="#fff" stroke="#f0841f" stroke-width="1.2"/>
<circle cx="167.91" cy="292.1" r="3.0" fill="#fff" stroke="#f0841f" stroke-width="1.2"/>
<circle cx="178.28" cy="298.6" r="3.0" fill="#fff" stroke="#f0841f" stroke-width="1.2"/>
<circle cx="188.25" cy="305.2" r="3.0" fill="#fff" stroke="#f0841f" stroke-width="1.2"/>
<circle cx="202.5" cy="316.3" r="3.0" fill="#fff" stroke="#f0841f" stroke-width="1.2"/>
<polyline points="48.5,222.7 64.9,231.7 80.3,240.1 94.82,248.8 108.56,257.4 121.59,265.6 133.98,273.7 145.8,281.6 157.1,288.6 167.91,296.3 178.28,304 188.25,310.4 202.5,319.5" fill="none" stroke="#3b94d8" stroke-width="1.2" stroke-linejoin="round"/>
<circle cx="48.5" cy="222.7" r="3.0" fill="#fff" stroke="#3b94d8" stroke-width="1.2"/>
<circle cx="64.9" cy="231.7" r="3.0" fill="#fff" stroke="#3b94d8" stroke-width="1.2"/>
<circle cx="80.3" cy="240.1" r="3.0" fill="#fff" stroke="#3b94d8" stroke-width="1.2"/>
<circle cx="94.82" cy="248.8" r="3.0" fill="#fff" stroke="#3b94d8" stroke-width="1.2"/>
<circle cx="108.56" cy="257.4" r="3.0" fill="#fff" stroke="#3b94d8" stroke-width="1.2"/>
<circle cx="121.59" cy="265.6" r="3.0" fill="#fff" stroke="#3b94d8" stroke-width="1.2"/>
<circle cx="133.98" cy="273.7" r="3.0" fill="#fff" stroke="#3b94d8" stroke-width="1.2"/>
<circle cx="145.8" cy="281.6" r="3.0" fill="#fff" stroke="#3b94d8" stroke-width="1.2"/>
<circle cx="157.1" cy="288.6" r="3.0" fill="#fff" stroke="#3b94d8" stroke-width="1.2"/>
<circle cx="167.91" cy="296.3" r="3.0" fill="#fff" stroke="#3b94d8" stroke-width="1.2"/>
<circle cx="178.28" cy="304" r="3.0" fill="#fff" stroke="#3b94d8" stroke-width="1.2"/>
<circle cx="188.25" cy="310.4" r="3.0" fill="#fff" stroke="#3b94d8" stroke-width="1.2"/>
<circle cx="202.5" cy="319.5" r="3.0" fill="#fff" stroke="#3b94d8" stroke-width="1.2"/>
<polyline points="48.5,227.4 64.9,235 80.3,243.8 94.82,253.1 108.56,262.2 121.59,271.5 133.98,280.1 145.8,286.9 157.1,293.2 167.91,301.3 178.28,308.9 188.25,315.7 202.5,325.6" fill="none" stroke="#3f8a35" stroke-width="1.2" stroke-linejoin="round"/>
<circle cx="48.5" cy="227.4" r="3.0" fill="#fff" stroke="#3f8a35" stroke-width="1.2"/>
<circle cx="64.9" cy="235" r="3.0" fill="#fff" stroke="#3f8a35" stroke-width="1.2"/>
<circle cx="80.3" cy="243.8" r="3.0" fill="#fff" stroke="#3f8a35" stroke-width="1.2"/>
<circle cx="94.82" cy="253.1" r="3.0" fill="#fff" stroke="#3f8a35" stroke-width="1.2"/>
<circle cx="108.56" cy="262.2" r="3.0" fill="#fff" stroke="#3f8a35" stroke-width="1.2"/>
<circle cx="121.59" cy="271.5" r="3.0" fill="#fff" stroke="#3f8a35" stroke-width="1.2"/>
<circle cx="133.98" cy="280.1" r="3.0" fill="#fff" stroke="#3f8a35" stroke-width="1.2"/>
<circle cx="145.8" cy="286.9" r="3.0" fill="#fff" stroke="#3f8a35" stroke-width="1.2"/>
<circle cx="157.1" cy="293.2" r="3.0" fill="#fff" stroke="#3f8a35" stroke-width="1.2"/>
<circle cx="167.91" cy="301.3" r="3.0" fill="#fff" stroke="#3f8a35" stroke-width="1.2"/>
<circle cx="178.28" cy="308.9" r="3.0" fill="#fff" stroke="#3f8a35" stroke-width="1.2"/>
<circle cx="188.25" cy="315.7" r="3.0" fill="#fff" stroke="#3f8a35" stroke-width="1.2"/>
<circle cx="202.5" cy="325.6" r="3.0" fill="#fff" stroke="#3f8a35" stroke-width="1.2"/>
<text x="7.2" y="198.5" font-size="12" font-weight="bold" fill="#000">D</text>
<text x="113.9" y="373" font-size="12.5" fill="#111111"><tspan font-style="italic">T</tspan><tspan dx="2.8">(K)</tspan></text>
<text transform="translate(10,277) rotate(-90)" text-anchor="middle" fill="#111111"><tspan font-size="12.1" font-style="italic">μ</tspan><tspan font-size="8.23" dy="2.42">w</tspan><tspan font-size="12.1" dy="-2.42"> (cm</tspan><tspan font-size="8.23" dy="-4.84">2</tspan><tspan font-size="12.1" dy="4.84"> V</tspan><tspan font-size="8.23" dy="-4.84">-1</tspan><tspan font-size="12.1" dy="4.84"> s</tspan><tspan font-size="8.23" dy="-4.84">-1</tspan><tspan font-size="12.1" dy="4.84">)</tspan></text>
<rect x="258.5" y="194" width="179" height="154.5" fill="none" stroke="#333333" stroke-width="1.1"/>
<line x1="273.4" y1="348.5" x2="273.4" y2="346.3" stroke="#333333" stroke-width="1"/>
<text x="273.4" y="358.7" font-size="9.3" text-anchor="middle" fill="#2a2a2a">300</text>
<line x1="303.24" y1="348.5" x2="303.24" y2="346.3" stroke="#333333" stroke-width="1"/>
<text x="303.24" y="358.7" font-size="9.3" text-anchor="middle" fill="#2a2a2a">350</text>
<line x1="333.08" y1="348.5" x2="333.08" y2="346.3" stroke="#333333" stroke-width="1"/>
<text x="333.08" y="358.7" font-size="9.3" text-anchor="middle" fill="#2a2a2a">400</text>
<line x1="362.92" y1="348.5" x2="362.92" y2="346.3" stroke="#333333" stroke-width="1"/>
<text x="362.92" y="358.7" font-size="9.3" text-anchor="middle" fill="#2a2a2a">450</text>
<line x1="392.76" y1="348.5" x2="392.76" y2="346.3" stroke="#333333" stroke-width="1"/>
<text x="392.76" y="358.7" font-size="9.3" text-anchor="middle" fill="#2a2a2a">500</text>
<line x1="422.6" y1="348.5" x2="422.6" y2="346.3" stroke="#333333" stroke-width="1"/>
<text x="422.6" y="358.7" font-size="9.3" text-anchor="middle" fill="#2a2a2a">550</text>
<line x1="258.5" y1="348.5" x2="260.7" y2="348.5" stroke="#333333" stroke-width="1"/>
<text x="255.3" y="351.33" font-size="9.3" text-anchor="end" fill="#2a2a2a">12</text>
<line x1="258.5" y1="317.6" x2="260.7" y2="317.6" stroke="#333333" stroke-width="1"/>
<text x="255.3" y="320.43" font-size="9.3" text-anchor="end" fill="#2a2a2a">16</text>
<line x1="258.5" y1="286.7" x2="260.7" y2="286.7" stroke="#333333" stroke-width="1"/>
<text x="255.3" y="289.53" font-size="9.3" text-anchor="end" fill="#2a2a2a">20</text>
<line x1="258.5" y1="255.8" x2="260.7" y2="255.8" stroke="#333333" stroke-width="1"/>
<text x="255.3" y="258.63" font-size="9.3" text-anchor="end" fill="#2a2a2a">24</text>
<line x1="258.5" y1="224.9" x2="260.7" y2="224.9" stroke="#333333" stroke-width="1"/>
<text x="255.3" y="227.73" font-size="9.3" text-anchor="end" fill="#2a2a2a">28</text>
<line x1="258.5" y1="194" x2="260.7" y2="194" stroke="#333333" stroke-width="1"/>
<text x="255.3" y="196.83" font-size="9.3" text-anchor="end" fill="#2a2a2a">32</text>
<polyline points="273.4,290.3 285.34,294.6 297.27,294.1 309.21,293.1 321.14,290 333.08,284.6 345.02,279.2 356.95,274.7 368.89,270.4 380.82,265.7 392.76,261.5 404.7,256.5 422.6,256" fill="none" stroke="#8c8c8c" stroke-width="1.2" stroke-linejoin="round"/>
<circle cx="273.4" cy="290.3" r="3.0" fill="#fff" stroke="#8c8c8c" stroke-width="1.2"/>
<circle cx="285.34" cy="294.6" r="3.0" fill="#fff" stroke="#8c8c8c" stroke-width="1.2"/>
<circle cx="297.27" cy="294.1" r="3.0" fill="#fff" stroke="#8c8c8c" stroke-width="1.2"/>
<circle cx="309.21" cy="293.1" r="3.0" fill="#fff" stroke="#8c8c8c" stroke-width="1.2"/>
<circle cx="321.14" cy="290" r="3.0" fill="#fff" stroke="#8c8c8c" stroke-width="1.2"/>
<circle cx="333.08" cy="284.6" r="3.0" fill="#fff" stroke="#8c8c8c" stroke-width="1.2"/>
<circle cx="345.02" cy="279.2" r="3.0" fill="#fff" stroke="#8c8c8c" stroke-width="1.2"/>
<circle cx="356.95" cy="274.7" r="3.0" fill="#fff" stroke="#8c8c8c" stroke-width="1.2"/>
<circle cx="368.89" cy="270.4" r="3.0" fill="#fff" stroke="#8c8c8c" stroke-width="1.2"/>
<circle cx="380.82" cy="265.7" r="3.0" fill="#fff" stroke="#8c8c8c" stroke-width="1.2"/>
<circle cx="392.76" cy="261.5" r="3.0" fill="#fff" stroke="#8c8c8c" stroke-width="1.2"/>
<circle cx="404.7" cy="256.5" r="3.0" fill="#fff" stroke="#8c8c8c" stroke-width="1.2"/>
<circle cx="422.6" cy="256" r="3.0" fill="#fff" stroke="#8c8c8c" stroke-width="1.2"/>
<polyline points="273.4,257.9 285.34,263.3 297.27,264.4 309.21,263.9 321.14,263 333.08,261.1 345.02,257.4 356.95,255.1 368.89,252.9 380.82,251.2 392.76,250.2 404.7,250.3 422.6,253.7" fill="none" stroke="#f0841f" stroke-width="1.2" stroke-linejoin="round"/>
<circle cx="273.4" cy="257.9" r="3.0" fill="#fff" stroke="#f0841f" stroke-width="1.2"/>
<circle cx="285.34" cy="263.3" r="3.0" fill="#fff" stroke="#f0841f" stroke-width="1.2"/>
<circle cx="297.27" cy="264.4" r="3.0" fill="#fff" stroke="#f0841f" stroke-width="1.2"/>
<circle cx="309.21" cy="263.9" r="3.0" fill="#fff" stroke="#f0841f" stroke-width="1.2"/>
<circle cx="321.14" cy="263" r="3.0" fill="#fff" stroke="#f0841f" stroke-width="1.2"/>
<circle cx="333.08" cy="261.1" r="3.0" fill="#fff" stroke="#f0841f" stroke-width="1.2"/>
<circle cx="345.02" cy="257.4" r="3.0" fill="#fff" stroke="#f0841f" stroke-width="1.2"/>
<circle cx="356.95" cy="255.1" r="3.0" fill="#fff" stroke="#f0841f" stroke-width="1.2"/>
<circle cx="368.89" cy="252.9" r="3.0" fill="#fff" stroke="#f0841f" stroke-width="1.2"/>
<circle cx="380.82" cy="251.2" r="3.0" fill="#fff" stroke="#f0841f" stroke-width="1.2"/>
<circle cx="392.76" cy="250.2" r="3.0" fill="#fff" stroke="#f0841f" stroke-width="1.2"/>
<circle cx="404.7" cy="250.3" r="3.0" fill="#fff" stroke="#f0841f" stroke-width="1.2"/>
<circle cx="422.6" cy="253.7" r="3.0" fill="#fff" stroke="#f0841f" stroke-width="1.2"/>
<polyline points="273.4,249.3 285.34,252.3 297.27,254 309.21,255.5 321.14,256.8 333.08,257.7 345.02,258.7 356.95,258.5 368.89,258.5 380.82,258.6 392.76,259.1 404.7,258.6 422.6,257.9" fill="none" stroke="#3b94d8" stroke-width="1.2" stroke-linejoin="round"/>
<circle cx="273.4" cy="249.3" r="3.0" fill="#fff" stroke="#3b94d8" stroke-width="1.2"/>
<circle cx="285.34" cy="252.3" r="3.0" fill="#fff" stroke="#3b94d8" stroke-width="1.2"/>
<circle cx="297.27" cy="254" r="3.0" fill="#fff" stroke="#3b94d8" stroke-width="1.2"/>
<circle cx="309.21" cy="255.5" r="3.0" fill="#fff" stroke="#3b94d8" stroke-width="1.2"/>
<circle cx="321.14" cy="256.8" r="3.0" fill="#fff" stroke="#3b94d8" stroke-width="1.2"/>
<circle cx="333.08" cy="257.7" r="3.0" fill="#fff" stroke="#3b94d8" stroke-width="1.2"/>
<circle cx="345.02" cy="258.7" r="3.0" fill="#fff" stroke="#3b94d8" stroke-width="1.2"/>
<circle cx="356.95" cy="258.5" r="3.0" fill="#fff" stroke="#3b94d8" stroke-width="1.2"/>
<circle cx="368.89" cy="258.5" r="3.0" fill="#fff" stroke="#3b94d8" stroke-width="1.2"/>
<circle cx="380.82" cy="258.6" r="3.0" fill="#fff" stroke="#3b94d8" stroke-width="1.2"/>
<circle cx="392.76" cy="259.1" r="3.0" fill="#fff" stroke="#3b94d8" stroke-width="1.2"/>
<circle cx="404.7" cy="258.6" r="3.0" fill="#fff" stroke="#3b94d8" stroke-width="1.2"/>
<circle cx="422.6" cy="257.9" r="3.0" fill="#fff" stroke="#3b94d8" stroke-width="1.2"/>
<polyline points="273.4,259.6 285.34,260.2 297.27,262.4 309.21,266.7 321.14,268.5 333.08,269.7 345.02,269.6 356.95,268 368.89,265.9 380.82,266 392.76,266.6 404.7,267.1 422.6,268.8" fill="none" stroke="#3f8a35" stroke-width="1.2" stroke-linejoin="round"/>
<circle cx="273.4" cy="259.6" r="3.0" fill="#fff" stroke="#3f8a35" stroke-width="1.2"/>
<circle cx="285.34" cy="260.2" r="3.0" fill="#fff" stroke="#3f8a35" stroke-width="1.2"/>
<circle cx="297.27" cy="262.4" r="3.0" fill="#fff" stroke="#3f8a35" stroke-width="1.2"/>
<circle cx="309.21" cy="266.7" r="3.0" fill="#fff" stroke="#3f8a35" stroke-width="1.2"/>
<circle cx="321.14" cy="268.5" r="3.0" fill="#fff" stroke="#3f8a35" stroke-width="1.2"/>
<circle cx="333.08" cy="269.7" r="3.0" fill="#fff" stroke="#3f8a35" stroke-width="1.2"/>
<circle cx="345.02" cy="269.6" r="3.0" fill="#fff" stroke="#3f8a35" stroke-width="1.2"/>
<circle cx="356.95" cy="268" r="3.0" fill="#fff" stroke="#3f8a35" stroke-width="1.2"/>
<circle cx="368.89" cy="265.9" r="3.0" fill="#fff" stroke="#3f8a35" stroke-width="1.2"/>
<circle cx="380.82" cy="266" r="3.0" fill="#fff" stroke="#3f8a35" stroke-width="1.2"/>
<circle cx="392.76" cy="266.6" r="3.0" fill="#fff" stroke="#3f8a35" stroke-width="1.2"/>
<circle cx="404.7" cy="267.1" r="3.0" fill="#fff" stroke="#3f8a35" stroke-width="1.2"/>
<circle cx="422.6" cy="268.8" r="3.0" fill="#fff" stroke="#3f8a35" stroke-width="1.2"/>
<text x="228.3" y="198.4" font-size="12" font-weight="bold" fill="#000">E</text>
<text x="333.9" y="371.8" font-size="12.5" fill="#111111"><tspan font-style="italic">T</tspan><tspan dx="2.8">(K)</tspan></text>
<text transform="translate(241,270.8) rotate(-90)" text-anchor="middle" fill="#111111"><tspan font-size="12" font-style="italic">PF</tspan><tspan font-size="12"> (μW cm</tspan><tspan font-size="8.64" dy="-4.8">-1</tspan><tspan font-size="12" dy="4.8"> K</tspan><tspan font-size="8.64" dy="-4.8">-2</tspan><tspan font-size="12" dy="4.8">)</tspan></text>
<rect x="476" y="194.5" width="178.9" height="154" fill="none" stroke="#333333" stroke-width="1.1"/>
<line x1="490.8" y1="348.5" x2="490.8" y2="345.5" stroke="#333333" stroke-width="1"/>
<text x="490.8" y="358.7" font-size="9.3" text-anchor="middle" fill="#2a2a2a">300</text>
<line x1="520.64" y1="348.5" x2="520.64" y2="345.5" stroke="#333333" stroke-width="1"/>
<text x="520.64" y="358.7" font-size="9.3" text-anchor="middle" fill="#2a2a2a">350</text>
<line x1="550.48" y1="348.5" x2="550.48" y2="345.5" stroke="#333333" stroke-width="1"/>
<text x="550.48" y="358.7" font-size="9.3" text-anchor="middle" fill="#2a2a2a">400</text>
<line x1="580.32" y1="348.5" x2="580.32" y2="345.5" stroke="#333333" stroke-width="1"/>
<text x="580.32" y="358.7" font-size="9.3" text-anchor="middle" fill="#2a2a2a">450</text>
<line x1="610.16" y1="348.5" x2="610.16" y2="345.5" stroke="#333333" stroke-width="1"/>
<text x="610.16" y="358.7" font-size="9.3" text-anchor="middle" fill="#2a2a2a">500</text>
<line x1="640" y1="348.5" x2="640" y2="345.5" stroke="#333333" stroke-width="1"/>
<text x="640" y="358.7" font-size="9.3" text-anchor="middle" fill="#2a2a2a">550</text>
<line x1="476" y1="348.5" x2="479" y2="348.5" stroke="#333333" stroke-width="1"/>
<text x="473.1" y="351.33" font-size="9.3" text-anchor="end" fill="#2a2a2a">0.4</text>
<line x1="476" y1="317.7" x2="479" y2="317.7" stroke="#333333" stroke-width="1"/>
<text x="473.1" y="320.53" font-size="9.3" text-anchor="end" fill="#2a2a2a">0.6</text>
<line x1="476" y1="286.9" x2="479" y2="286.9" stroke="#333333" stroke-width="1"/>
<text x="473.1" y="289.73" font-size="9.3" text-anchor="end" fill="#2a2a2a">0.8</text>
<line x1="476" y1="256.1" x2="479" y2="256.1" stroke="#333333" stroke-width="1"/>
<text x="473.1" y="258.93" font-size="9.3" text-anchor="end" fill="#2a2a2a">1.0</text>
<line x1="476" y1="225.3" x2="479" y2="225.3" stroke="#333333" stroke-width="1"/>
<text x="473.1" y="228.13" font-size="9.3" text-anchor="end" fill="#2a2a2a">1.2</text>
<line x1="476" y1="194.5" x2="479" y2="194.5" stroke="#333333" stroke-width="1"/>
<text x="473.1" y="197.33" font-size="9.3" text-anchor="end" fill="#2a2a2a">1.4</text>
<polyline points="490.8,285.1 502.74,274.3 514.67,264.3 526.61,255.3 538.54,245.6 550.48,238.4 562.42,231.2 574.35,228.6 586.29,226.4 598.22,224.9 610.16,224.5 622.1,223.6 640,227.7" fill="none" stroke="#8c8c8c" stroke-width="1.2" stroke-linejoin="round"/>
<circle cx="490.8" cy="285.1" r="3.0" fill="#fff" stroke="#8c8c8c" stroke-width="1.2"/>
<circle cx="502.74" cy="274.3" r="3.0" fill="#fff" stroke="#8c8c8c" stroke-width="1.2"/>
<circle cx="514.67" cy="264.3" r="3.0" fill="#fff" stroke="#8c8c8c" stroke-width="1.2"/>
<circle cx="526.61" cy="255.3" r="3.0" fill="#fff" stroke="#8c8c8c" stroke-width="1.2"/>
<circle cx="538.54" cy="245.6" r="3.0" fill="#fff" stroke="#8c8c8c" stroke-width="1.2"/>
<circle cx="550.48" cy="238.4" r="3.0" fill="#fff" stroke="#8c8c8c" stroke-width="1.2"/>
<circle cx="562.42" cy="231.2" r="3.0" fill="#fff" stroke="#8c8c8c" stroke-width="1.2"/>
<circle cx="574.35" cy="228.6" r="3.0" fill="#fff" stroke="#8c8c8c" stroke-width="1.2"/>
<circle cx="586.29" cy="226.4" r="3.0" fill="#fff" stroke="#8c8c8c" stroke-width="1.2"/>
<circle cx="598.22" cy="224.9" r="3.0" fill="#fff" stroke="#8c8c8c" stroke-width="1.2"/>
<circle cx="610.16" cy="224.5" r="3.0" fill="#fff" stroke="#8c8c8c" stroke-width="1.2"/>
<circle cx="622.1" cy="223.6" r="3.0" fill="#fff" stroke="#8c8c8c" stroke-width="1.2"/>
<circle cx="640" cy="227.7" r="3.0" fill="#fff" stroke="#8c8c8c" stroke-width="1.2"/>
<polyline points="490.8,277.6 502.74,261.6 514.67,248.1 526.61,238.2 538.54,232.2 550.48,228.3 562.42,224 574.35,222.7 586.29,219.9 598.22,219.3 610.16,219.5 622.1,221.4 640,231.4" fill="none" stroke="#f0841f" stroke-width="1.2" stroke-linejoin="round"/>
<circle cx="490.8" cy="277.6" r="3.0" fill="#fff" stroke="#f0841f" stroke-width="1.2"/>
<circle cx="502.74" cy="261.6" r="3.0" fill="#fff" stroke="#f0841f" stroke-width="1.2"/>
<circle cx="514.67" cy="248.1" r="3.0" fill="#fff" stroke="#f0841f" stroke-width="1.2"/>
<circle cx="526.61" cy="238.2" r="3.0" fill="#fff" stroke="#f0841f" stroke-width="1.2"/>
<circle cx="538.54" cy="232.2" r="3.0" fill="#fff" stroke="#f0841f" stroke-width="1.2"/>
<circle cx="550.48" cy="228.3" r="3.0" fill="#fff" stroke="#f0841f" stroke-width="1.2"/>
<circle cx="562.42" cy="224" r="3.0" fill="#fff" stroke="#f0841f" stroke-width="1.2"/>
<circle cx="574.35" cy="222.7" r="3.0" fill="#fff" stroke="#f0841f" stroke-width="1.2"/>
<circle cx="586.29" cy="219.9" r="3.0" fill="#fff" stroke="#f0841f" stroke-width="1.2"/>
<circle cx="598.22" cy="219.3" r="3.0" fill="#fff" stroke="#f0841f" stroke-width="1.2"/>
<circle cx="610.16" cy="219.5" r="3.0" fill="#fff" stroke="#f0841f" stroke-width="1.2"/>
<circle cx="622.1" cy="221.4" r="3.0" fill="#fff" stroke="#f0841f" stroke-width="1.2"/>
<circle cx="640" cy="231.4" r="3.0" fill="#fff" stroke="#f0841f" stroke-width="1.2"/>
<polyline points="490.8,293.5 502.74,282 514.67,270.6 526.61,260.1 538.54,251.3 550.48,245.4 562.42,240.2 574.35,237.9 586.29,237.6 598.22,239.8 610.16,243.2 622.1,245.4 640,250.6" fill="none" stroke="#3b94d8" stroke-width="1.2" stroke-linejoin="round"/>
<circle cx="490.8" cy="293.5" r="3.0" fill="#fff" stroke="#3b94d8" stroke-width="1.2"/>
<circle cx="502.74" cy="282" r="3.0" fill="#fff" stroke="#3b94d8" stroke-width="1.2"/>
<circle cx="514.67" cy="270.6" r="3.0" fill="#fff" stroke="#3b94d8" stroke-width="1.2"/>
<circle cx="526.61" cy="260.1" r="3.0" fill="#fff" stroke="#3b94d8" stroke-width="1.2"/>
<circle cx="538.54" cy="251.3" r="3.0" fill="#fff" stroke="#3b94d8" stroke-width="1.2"/>
<circle cx="550.48" cy="245.4" r="3.0" fill="#fff" stroke="#3b94d8" stroke-width="1.2"/>
<circle cx="562.42" cy="240.2" r="3.0" fill="#fff" stroke="#3b94d8" stroke-width="1.2"/>
<circle cx="574.35" cy="237.9" r="3.0" fill="#fff" stroke="#3b94d8" stroke-width="1.2"/>
<circle cx="586.29" cy="237.6" r="3.0" fill="#fff" stroke="#3b94d8" stroke-width="1.2"/>
<circle cx="598.22" cy="239.8" r="3.0" fill="#fff" stroke="#3b94d8" stroke-width="1.2"/>
<circle cx="610.16" cy="243.2" r="3.0" fill="#fff" stroke="#3b94d8" stroke-width="1.2"/>
<circle cx="622.1" cy="245.4" r="3.0" fill="#fff" stroke="#3b94d8" stroke-width="1.2"/>
<circle cx="640" cy="250.6" r="3.0" fill="#fff" stroke="#3b94d8" stroke-width="1.2"/>
<polyline points="490.8,302.4 502.74,288.1 514.67,276.6 526.61,268.5 538.54,261.9 550.48,257.2 562.42,252.6 574.35,248.7 586.29,244.6 598.22,245.6 610.16,249.3 622.1,252.8 640,259.9" fill="none" stroke="#3f8a35" stroke-width="1.2" stroke-linejoin="round"/>
<circle cx="490.8" cy="302.4" r="3.0" fill="#fff" stroke="#3f8a35" stroke-width="1.2"/>
<circle cx="502.74" cy="288.1" r="3.0" fill="#fff" stroke="#3f8a35" stroke-width="1.2"/>
<circle cx="514.67" cy="276.6" r="3.0" fill="#fff" stroke="#3f8a35" stroke-width="1.2"/>
<circle cx="526.61" cy="268.5" r="3.0" fill="#fff" stroke="#3f8a35" stroke-width="1.2"/>
<circle cx="538.54" cy="261.9" r="3.0" fill="#fff" stroke="#3f8a35" stroke-width="1.2"/>
<circle cx="550.48" cy="257.2" r="3.0" fill="#fff" stroke="#3f8a35" stroke-width="1.2"/>
<circle cx="562.42" cy="252.6" r="3.0" fill="#fff" stroke="#3f8a35" stroke-width="1.2"/>
<circle cx="574.35" cy="248.7" r="3.0" fill="#fff" stroke="#3f8a35" stroke-width="1.2"/>
<circle cx="586.29" cy="244.6" r="3.0" fill="#fff" stroke="#3f8a35" stroke-width="1.2"/>
<circle cx="598.22" cy="245.6" r="3.0" fill="#fff" stroke="#3f8a35" stroke-width="1.2"/>
<circle cx="610.16" cy="249.3" r="3.0" fill="#fff" stroke="#3f8a35" stroke-width="1.2"/>
<circle cx="622.1" cy="252.8" r="3.0" fill="#fff" stroke="#3f8a35" stroke-width="1.2"/>
<circle cx="640" cy="259.9" r="3.0" fill="#fff" stroke="#3f8a35" stroke-width="1.2"/>
<text x="451.2" y="198.4" font-size="12" font-weight="bold" fill="#000">F</text>
<text x="552" y="373.3" font-size="12.5" fill="#111111"><tspan font-style="italic">T</tspan><tspan dx="2.8">(K)</tspan></text>
<text transform="translate(460.6,269.9) rotate(-90)" text-anchor="middle" fill="#111111"><tspan font-size="12.8" font-style="italic">ZT</tspan></text>
</svg>
</body></html>
